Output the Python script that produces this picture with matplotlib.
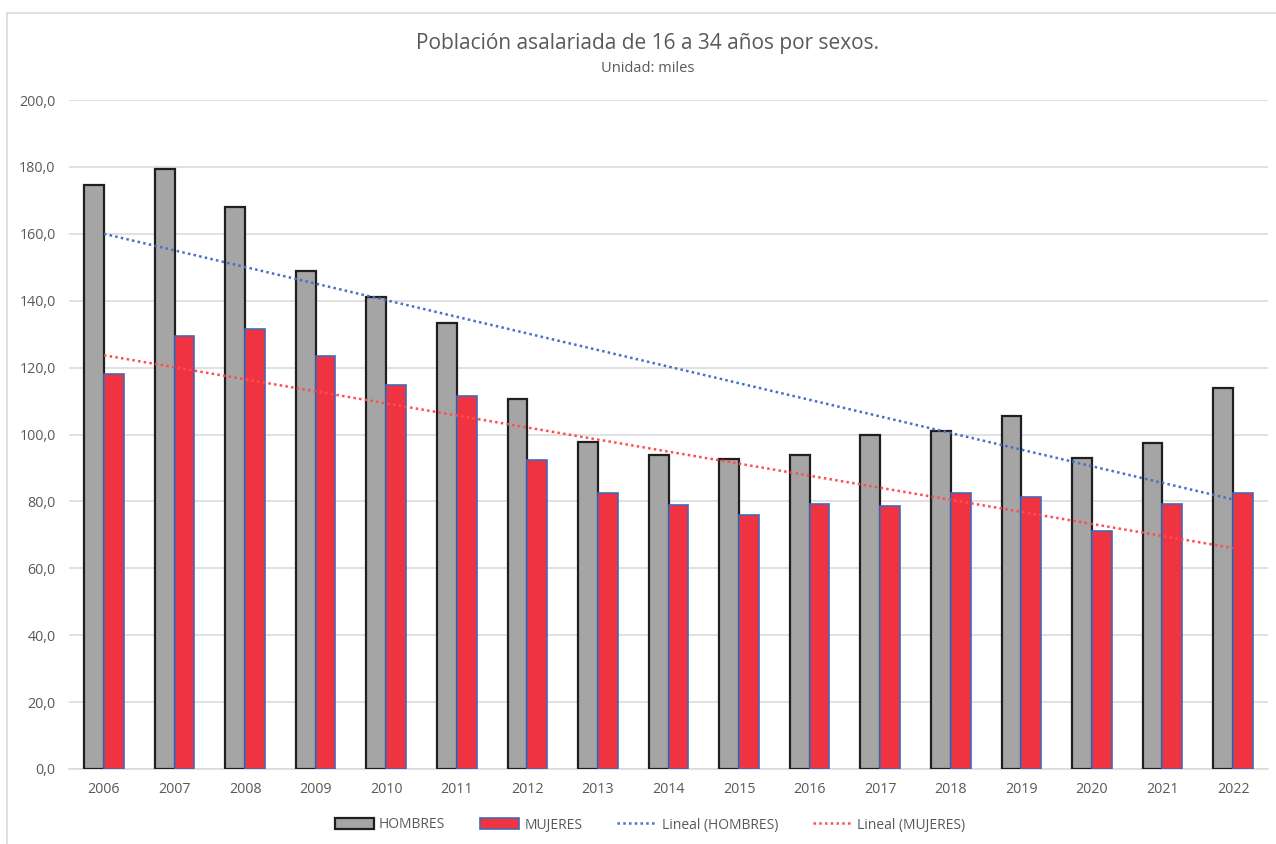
import numpy as np
import matplotlib
matplotlib.use("Agg")
import matplotlib.pyplot as plt
from matplotlib.ticker import FuncFormatter, MultipleLocator
from matplotlib.patches import Patch
from matplotlib.lines import Line2D

plt.rcParams['font.family'] = ['Open Sans', 'DejaVu Sans']

years = [2006, 2007, 2008, 2009, 2010, 2011, 2012, 2013, 2014, 2015, 2016,
         2017, 2018, 2019, 2020, 2021, 2022]
hombres = [174.6, 179.4, 168.0, 148.9, 141.1, 133.3, 110.6, 97.8, 93.9, 92.7,
           93.9, 99.9, 101.0, 105.5, 93.0, 97.5, 113.9]
mujeres = [118.1, 129.4, 131.5, 123.5, 114.8, 111.5, 92.4, 82.5, 78.9, 75.9,
           79.2, 78.6, 82.5, 81.3, 71.2, 79.2, 82.5]

title = "Población asalariada de 16 a 34 años por sexos."
subtitle = "Unidad: miles"
labels = ["HOMBRES", "MUJERES", "Lineal (HOMBRES)", "Lineal (MUJERES)"]

W, H = 1276, 844
fig = plt.figure(figsize=(W / 100, H / 100), dpi=100)
fig.patch.set_facecolor('white')

left, right = 68.7 / W, 1268.3 / W
bottom, top = (H - 769) / H, (H - 100) / H
ax = fig.add_axes([left, bottom, right - left, top - bottom])

x = np.arange(len(years))
bw = 0.28
gray_fill = '#a5a5a5'
red_fill = '#ef3340'
ax.bar(x - bw / 2, hombres, width=bw, color=gray_fill, edgecolor='#1f1f1f',
       linewidth=1.6, zorder=3)
ax.bar(x + bw / 2, mujeres, width=bw, color=red_fill, edgecolor='#4468b8',
       linewidth=1.2, zorder=3)

# linear trend lines
ph = np.polyfit(x, hombres, 1)
pm = np.polyfit(x, mujeres, 1)
ax.plot(x, np.polyval(ph, x), color='#4472c4', linestyle=(0, (1, 1.3)),
        linewidth=1.8, zorder=4)
ax.plot(x, np.polyval(pm, x), color='#ff4d4d', linestyle=(0, (1, 1.3)),
        linewidth=1.8, zorder=4)

ax.set_xlim(-0.5, len(years) - 0.5)
ax.set_ylim(0, 200)
ax.yaxis.set_major_locator(MultipleLocator(20))
ax.yaxis.set_major_formatter(FuncFormatter(lambda v, p: f"{v:.1f}".replace('.', ',')))
ax.set_xticks(x)
ax.set_xticklabels([str(y) for y in years])
ax.grid(axis='y', color='#d9d9d9', linewidth=1.1, zorder=0)
ax.set_axisbelow(True)
for s in ['top', 'right', 'left']:
    ax.spines[s].set_visible(False)
ax.spines['bottom'].set_color('#d9d9d9')
ax.spines['bottom'].set_linewidth(1.1)
ax.tick_params(axis='both', length=0, labelsize=10.3, labelcolor='#595959')
ax.tick_params(axis='y', pad=9.5)
ax.tick_params(axis='x', pad=9.5)

fig.text(648 / W, 1 - 43 / H, title, ha='center', va='center',
         fontsize=15, color='#595959')
fig.text(648 / W, 1 - 68 / H, subtitle, ha='center', va='center',
         fontsize=10.5, color='#595959')

handles = [
    Patch(facecolor=gray_fill, edgecolor='#1f1f1f', linewidth=1.6),
    Patch(facecolor=red_fill, edgecolor='#4468b8', linewidth=1.2),
    Line2D([], [], color='#4472c4', linestyle=(0, (1, 1.3)), linewidth=1.8),
    Line2D([], [], color='#ff4d4d', linestyle=(0, (1, 1.3)), linewidth=1.8),
]
leg = fig.legend(handles, labels, loc='center', bbox_to_anchor=(650 / W, 1 - 825 / H),
                 ncol=4, frameon=False, fontsize=10, handlelength=2.8,
                 handleheight=0.85, columnspacing=2.5, handletextpad=0.4)
for t in leg.get_texts():
    t.set_color('#595959')

# chart border (left & top)
fig.add_artist(Line2D([7 / W, 7 / W], [0, 1 - 13 / H], color='#d9d9d9',
                      linewidth=1.2, transform=fig.transFigure))
fig.add_artist(Line2D([7 / W, 1], [1 - 13 / H, 1 - 13 / H], color='#d9d9d9',
                      linewidth=1.2, transform=fig.transFigure))

fig.savefig('out.png', dpi=100, facecolor='white')
